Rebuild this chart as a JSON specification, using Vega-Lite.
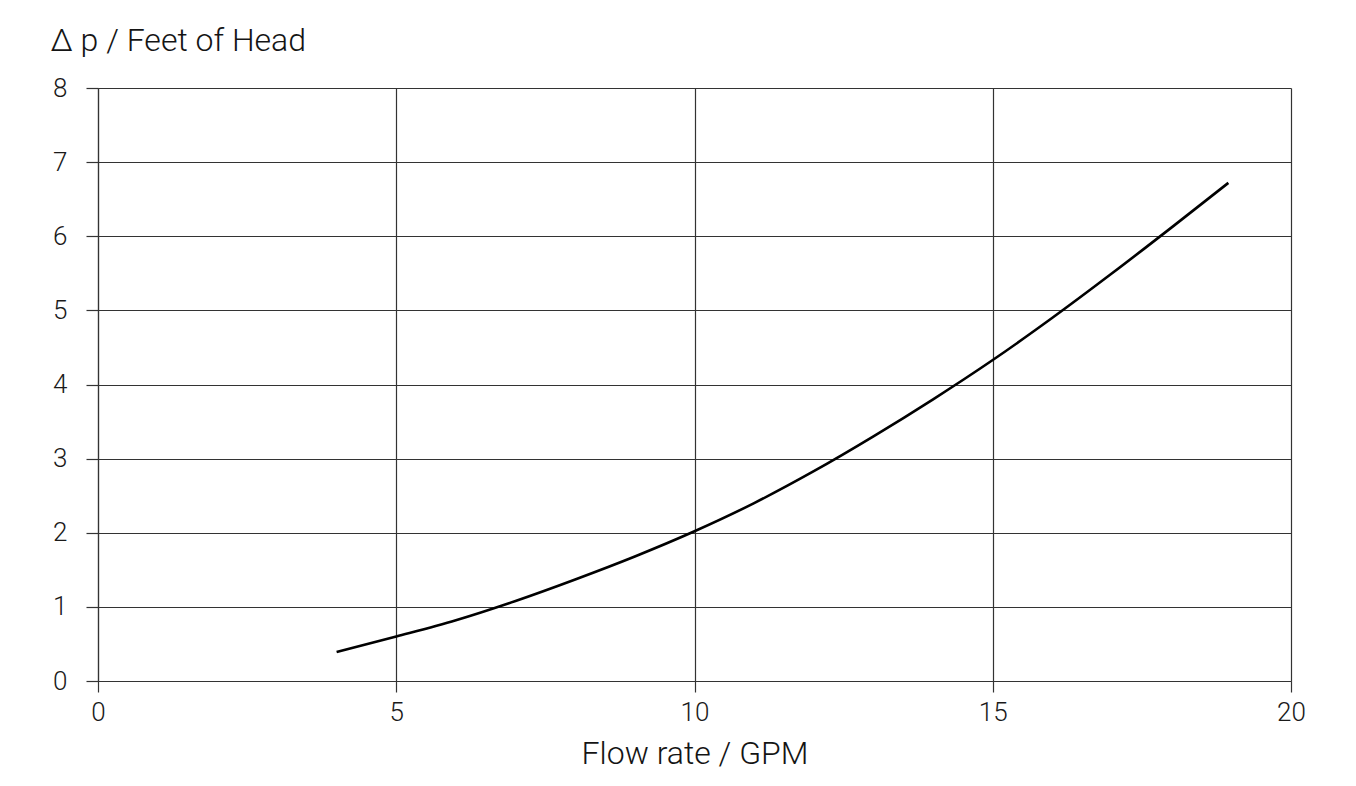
{
  "$schema": "https://vega.github.io/schema/vega-lite/v6.json",
  "width": 1193,
  "height": 593,
  "autosize": {"type": "none"},
  "padding": {"left": 98, "top": 88, "right": 65, "bottom": 105},
  "background": "white",
  "config": {
    "view": {"stroke": null},
    "font": "Roboto",
    "axis": {
      "labelFont": "Roboto",
      "labelFontWeight": 300,
      "labelFontSize": 26,
      "labelColor": "#1a1a1a",
      "labelFlush": false,
      "titleFont": "Roboto",
      "titleFontWeight": 300,
      "titleFontSize": 32,
      "titleColor": "#141414",
      "gridColor": "#333333",
      "gridOpacity": 1,
      "gridWidth": 1.2,
      "domainColor": "#333333",
      "domainWidth": 1.2,
      "tickColor": "#333333",
      "tickWidth": 1.2
    }
  },
  "data": {
    "values": [
      {"gpm": 4.0, "dp": 0.39},
      {"gpm": 5.0, "dp": 0.60},
      {"gpm": 6.0, "dp": 0.82},
      {"gpm": 7.0, "dp": 1.08},
      {"gpm": 8.0, "dp": 1.37},
      {"gpm": 9.0, "dp": 1.68},
      {"gpm": 10.0, "dp": 2.02},
      {"gpm": 11.0, "dp": 2.40},
      {"gpm": 12.0, "dp": 2.83},
      {"gpm": 13.0, "dp": 3.30},
      {"gpm": 14.0, "dp": 3.80},
      {"gpm": 15.0, "dp": 4.33},
      {"gpm": 16.0, "dp": 4.90},
      {"gpm": 17.0, "dp": 5.50},
      {"gpm": 18.0, "dp": 6.12},
      {"gpm": 18.95, "dp": 6.72}
    ]
  },
  "mark": {"type": "line", "color": "black", "strokeWidth": 2.6, "interpolate": "monotone"},
  "encoding": {
    "x": {
      "field": "gpm",
      "type": "quantitative",
      "scale": {"domain": [0, 20], "nice": false, "zero": false},
      "axis": {
        "values": [0, 5, 10, 15, 20],
        "grid": true,
        "tickSize": 11,
        "labelPadding": 7,
        "title": "Flow rate / GPM",
        "titlePadding": 13
      }
    },
    "y": {
      "field": "dp",
      "type": "quantitative",
      "scale": {"domain": [0, 8], "nice": false},
      "axis": {
        "values": [0, 1, 2, 3, 4, 5, 6, 7, 8],
        "grid": true,
        "tickSize": 12,
        "labelPadding": 19,
        "title": "Δ p / Feet of Head",
        "titleAngle": 0,
        "titleAlign": "left",
        "titleBaseline": "alphabetic",
        "titleX": -48,
        "titleY": -38
      }
    }
  }
}
